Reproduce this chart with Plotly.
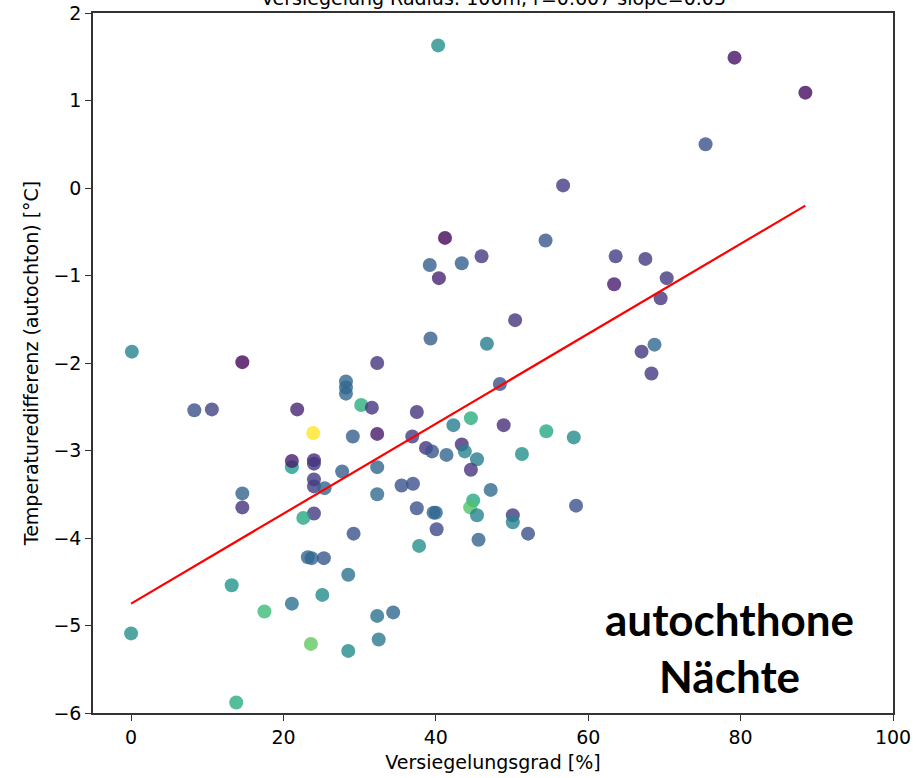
import plotly.graph_objects as go

# Versiegelungsgrad [%]
x_vals = [40.3, 79.2, 88.5, 75.4, 56.7, 54.4, 41.2, 43.4, 46.0, 39.2,
          40.4, 63.6, 67.5, 63.4, 70.3, 69.5, 50.4, 46.7, 39.3, 67.0,
          68.7, 68.3, 0.1, 14.6, 32.3, 8.3, 10.6, 21.8, 28.2, 28.2,
          28.2, 30.2, 31.6, 23.9, 29.1, 32.3, 36.9, 21.1, 21.1, 24.0,
          24.0, 27.7, 32.3, 24.0, 24.0, 25.4, 14.6, 32.3, 14.6, 24.0,
          22.6, 29.2, 23.2, 23.7, 25.3, 28.5, 13.2, 25.1, 21.1, 17.5,
          32.3, 34.4, 0.0, 23.6, 28.5, 32.5, 13.8, 48.4, 37.5, 44.6,
          42.3, 48.9, 54.5, 58.1, 38.7, 39.5, 41.4, 43.4, 43.8, 45.4,
          51.3, 44.6, 35.5, 37.0, 47.2, 44.9, 44.5, 45.4, 37.5, 39.7,
          40.0, 50.1, 50.1, 58.4, 40.1, 52.1, 45.6, 37.8]

# Temperaturedifferenz (autochton) [°C]
y_vals = [1.63, 1.49, 1.09, 0.50, 0.03, -0.60, -0.57, -0.86, -0.78, -0.88,
          -1.03, -0.78, -0.81, -1.10, -1.03, -1.26, -1.51, -1.78, -1.72, -1.87,
          -1.79, -2.12, -1.87, -1.99, -2.00, -2.54, -2.53, -2.53, -2.21, -2.28,
          -2.35, -2.48, -2.51, -2.80, -2.84, -2.81, -2.84, -3.19, -3.12, -3.11,
          -3.15, -3.24, -3.19, -3.33, -3.41, -3.43, -3.49, -3.50, -3.65, -3.72,
          -3.77, -3.95, -4.22, -4.23, -4.23, -4.42, -4.54, -4.65, -4.75, -4.84,
          -4.89, -4.85, -5.09, -5.21, -5.29, -5.16, -5.88, -2.24, -2.56, -2.63,
          -2.71, -2.71, -2.78, -2.85, -2.97, -3.01, -3.05, -2.93, -3.01, -3.10,
          -3.04, -3.22, -3.40, -3.38, -3.45, -3.57, -3.65, -3.74, -3.66, -3.71,
          -3.71, -3.74, -3.82, -3.63, -3.90, -3.95, -4.02, -4.09]

# colour variable (normalised 0..1, viridis)
c_vals = [0.50, 0.05, 0.03, 0.25, 0.18, 0.27, 0.02, 0.30, 0.17, 0.30,
          0.10, 0.18, 0.17, 0.08, 0.17, 0.15, 0.15, 0.42, 0.30, 0.15,
          0.33, 0.17, 0.45, 0.02, 0.15, 0.25, 0.20, 0.10, 0.33, 0.33,
          0.33, 0.62, 0.15, 1.00, 0.30, 0.07, 0.18, 0.55, 0.08, 0.12,
          0.15, 0.30, 0.32, 0.17, 0.18, 0.32, 0.32, 0.35, 0.15, 0.17,
          0.60, 0.25, 0.33, 0.33, 0.27, 0.38, 0.52, 0.48, 0.38, 0.68,
          0.38, 0.33, 0.50, 0.75, 0.48, 0.40, 0.62, 0.25, 0.15, 0.62,
          0.42, 0.13, 0.60, 0.48, 0.15, 0.27, 0.32, 0.13, 0.45, 0.42,
          0.50, 0.15, 0.25, 0.25, 0.35, 0.60, 0.72, 0.45, 0.25, 0.33,
          0.33, 0.17, 0.45, 0.25, 0.22, 0.25, 0.32, 0.50]

reg_intercept = -4.75
reg_slope = 0.0514

x_ticks = [0, 20, 40, 60, 80, 100]
y_ticks = [-6, -5, -4, -3, -2, -1, 0, 1, 2]

title_text = "Versiegelung Radius: 100m, r=0.607 slope=0.05"
x_title = "Versiegelungsgrad [%]"
y_title = "Temperaturedifferenz (autochton) [°C]"
overlay_text = "autochthone<br>Nächte"

font_fam = "DejaVu Sans"

fig = go.Figure()
fig.add_trace(go.Scatter(
    x=x_vals, y=y_vals, mode="markers",
    marker=dict(size=14, color=c_vals, colorscale="Viridis", cmin=0, cmax=1,
                opacity=0.8, line=dict(width=0)),
    showlegend=False, hoverinfo="skip"))

xl = [min(x_vals), max(x_vals)]
yl = [reg_intercept + reg_slope * v for v in xl]
fig.add_trace(go.Scatter(x=xl, y=yl, mode="lines",
                         line=dict(color="red", width=2.2),
                         showlegend=False, hoverinfo="skip"))

axis_common = dict(showline=True, linecolor="#333333", linewidth=1.5, mirror=True,
                   ticks="outside", ticklen=6, tickwidth=1.3, tickcolor="#333333",
                   showgrid=False, zeroline=False, automargin=False,
                   ticklabeloverflow="allow",
                   tickfont=dict(family=font_fam, size=19, color="black"))

fig.update_layout(
    width=923, height=778,
    margin=dict(l=93, r=30, t=13, b=65),
    paper_bgcolor="white", plot_bgcolor="white",
    font=dict(family=font_fam, color="black"),
    xaxis=dict(range=[-5, 100], tickvals=x_ticks,
               title=dict(text=x_title, font=dict(family=font_fam, size=19), standoff=9),
               **axis_common),
    yaxis=dict(range=[-6, 2], tickvals=y_ticks,
               tickformat="d",
               title=dict(text=y_title, font=dict(family=font_fam, size=19), standoff=10),
               **axis_common),
)

fig.add_annotation(text=title_text, xref="paper", yref="paper", x=0.5, y=1.0214,
                   xanchor="center", yanchor="middle", showarrow=False,
                   font=dict(family=font_fam, size=19, color="black"))

fig.add_annotation(text=overlay_text, xref="paper", yref="paper", x=0.795, y=0.094,
                   xanchor="center", yanchor="middle", showarrow=False, align="center",
                   font=dict(family="Lato", size=44, color="black", weight="bold"))

fig.write_html("out.html",
               config={"displayModeBar": False},
               post_script="document.body.style.margin='0';document.body.style.padding='0';")
